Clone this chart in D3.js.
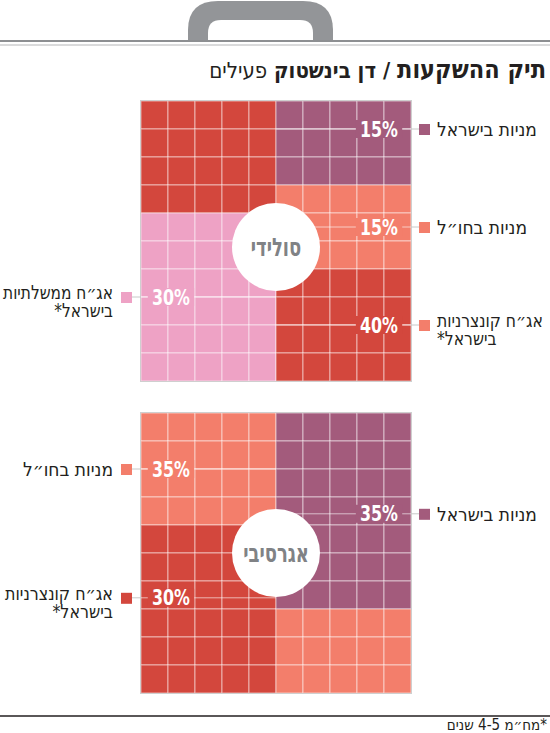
<!DOCTYPE html>
<html lang="he">
<head>
<meta charset="UTF-8">
<title>תיק ההשקעות</title>
<script src="https://d3js.org/d3.v7.min.js"></script>
<style>
  html, body { margin: 0; padding: 0; background: #fff; overflow: hidden; }
  svg { display: block; }
  text { font-family: 'DejaVu Sans Condensed', 'DejaVu Sans', 'Liberation Sans', sans-serif; }
</style>
</head>
<body>
<svg id="chart" width="550" height="733"></svg>
<script>
// asset classes
const catKeys = ["isr", "for", "corp", "gov"];
const catNames = ["מניות בישראל", "מניות בחו״ל", "אג״ח קונצרניות|בישראל*", "אג״ח ממשלתיות|בישראל*"];
const catColors = ["#a35b7c", "#f37e6b", "#d3473d", "#eea2c5"];

const portfolioNames = ["סולידי", "אגרסיבי"];

// share of each asset class, percent
const solidShares = [15, 15, 40, 30];
const aggressiveShares = [35, 35, 30, 0];

// how the 100 squares are stacked: left half / right half, top to bottom
const solidLeft = [["corp", 20], ["gov", 30]];
const solidRight = [["isr", 15], ["for", 15], ["corp", 20]];
const aggressiveLeft = [["for", 20], ["corp", 30]];
const aggressiveRight = [["isr", 35], ["for", 15]];

const svg = d3.select("#chart");
const color = d3.scaleOrdinal().domain(catKeys).range(catColors);

// layout
const gridX0 = 141, gridW = 270, gridH = 280;
const narrow = 0.84;   // squeeze to look like the condensed newspaper face
const panels = [
  { name: portfolioNames[0], shares: solidShares, left: solidLeft, right: solidRight, top: 101, circleDy: 6,
    labels: [ { key: "isr", side: "right", row: 1, maxW: 100 }, { key: "for", side: "right", row: 4.5, maxW: 100 },
              { key: "corp", side: "right", row: 8, maxW: 106, swatch: "#f37e6b" },
              { key: "gov", side: "left", row: 7, maxW: 110 } ] },
  { name: portfolioNames[1], shares: aggressiveShares, left: aggressiveLeft, right: aggressiveRight, top: 413, circleDy: 0,
    labels: [ { key: "for", side: "left", row: 2, maxW: 100 }, { key: "isr", side: "right", row: 3.6, maxW: 100 },
              { key: "corp", side: "left", row: 6.6, maxW: 108 } ] }
];

// ---- header: briefcase handle + rules + title
const handle = svg.append("g").attr("fill", "#939598");
handle.append("path")
  .attr("d", "M188,40 V30 Q188,1 218,1 H303 Q333,1 333,30 V40 Z");
handle.append("path").attr("fill", "#fff")
  .attr("d", "M208,40 V33 Q208,20 221,20 H300 Q313,20 313,33 V40 Z");

svg.append("line").attr("x1", 0).attr("x2", 550).attr("y1", 41).attr("y2", 41)
  .attr("stroke", "#8d8f92").attr("stroke-width", 2);
svg.append("line").attr("x1", 0).attr("x2", 550).attr("y1", 45).attr("y2", 45)
  .attr("stroke", "#b5b6b8").attr("stroke-width", 1);

const title = svg.append("text")
  .attr("x", 546).attr("y", 78)
  .attr("direction", "rtl").attr("text-anchor", "start")
  .attr("fill", "#231f20");
title.append("tspan").attr("font-size", 25).attr("font-weight", 700).text("תיק ההשקעות");
title.append("tspan").attr("font-size", 22).attr("font-weight", 700).text(" / דן בינשטוק ");
title.append("tspan").attr("font-size", 22).attr("font-weight", 400).text("פעילים");

// ---- waffles
function buildCells(leftSeq, rightSeq) {
  const cells = [];
  [[leftSeq, 0], [rightSeq, 5]].forEach(([seq, colOff]) => {
    let idx = 0;
    seq.forEach(([key, n]) => {
      for (let k = 0; k < n; k++, idx++) {
        cells.push({ key, col: colOff + idx % 5, row: Math.floor(idx / 5) });
      }
    });
  });
  return cells;
}

const x = d3.scaleBand().domain(d3.range(10)).range([gridX0, gridX0 + gridW]);

panels.forEach(p => {
  const y = d3.scaleBand().domain(d3.range(10)).range([p.top, p.top + gridH]);
  const yRow = d3.scaleLinear().domain([0, 10]).range([p.top, p.top + gridH]);
  const g = svg.append("g");

  g.selectAll("rect.cell")
    .data(buildCells(p.left, p.right))
    .join("rect")
    .attr("class", "cell")
    .attr("x", d => x(d.col)).attr("y", d => y(d.row))
    .attr("width", x.bandwidth()).attr("height", y.bandwidth())
    .attr("fill", d => color(d.key))
    .attr("stroke", "#fff").attr("stroke-opacity", 0.55).attr("stroke-width", 1);

  g.append("rect")
    .attr("x", gridX0 - 0.5).attr("y", p.top - 0.5)
    .attr("width", gridW + 1).attr("height", gridH + 1)
    .attr("fill", "none").attr("stroke", "#cfcfcf").attr("stroke-width", 1);

  // labels, leaders, legend
  p.labels.forEach(l => {
    const i = catKeys.indexOf(l.key);
    const ly = yRow(l.row);
    const right = l.side === "right";
    const edge = right ? gridX0 + gridW : gridX0;
    const swX = right ? edge + 8 : edge - 20;

    // leader across the block and out to the swatch
    g.append("line")
      .attr("x1", right ? x(5) : gridX0).attr("x2", right ? gridX0 + gridW : x(5))
      .attr("y1", ly).attr("y2", ly)
      .attr("stroke", "#fff").attr("stroke-opacity", 0.6);
    g.append("line")
      .attr("x1", edge).attr("x2", right ? swX : swX + 11)
      .attr("y1", ly).attr("y2", ly)
      .attr("stroke", "#c8c8c8");

    // percentage on a patch of its own colour, so the grid breaks around it
    const pg = g.append("g")
      .attr("transform", `translate(${right ? edge - 13 : edge + 11},${ly}) scale(${narrow},1)`);
    const lbl = pg.append("text")
      .attr("y", 7.5)
      .attr("text-anchor", right ? "end" : "start")
      .attr("font-size", 21).attr("font-weight", 700).attr("fill", "#fff")
      .text(p.shares[i] + "%");
    const bb = lbl.node().getBBox();
    pg.insert("rect", "text")
      .attr("x", bb.x - 5).attr("y", -9)
      .attr("width", bb.width + 10).attr("height", 18)
      .attr("fill", color(l.key));

    g.append("rect")
      .attr("x", swX).attr("y", ly - 5).attr("width", 11).attr("height", 11)
      .attr("fill", l.swatch || color(l.key));

    const ax = right ? swX + 18 : swX - 8;
    const lines = catNames[i].split("|");
    const tg = g.append("g");
    const t = tg.append("text")
      .attr("direction", "rtl")
      .attr("text-anchor", right ? "end" : "start")
      .attr("font-size", 19).attr("fill", "#231f20");
    lines.forEach((s, k) => {
      t.append("tspan")
        .attr("x", 0)
        .attr("y", lines.length > 1 ? 2 + k * 18 : 7)
        .text(s);
    });
    const w = t.select("tspan").node().getComputedTextLength();
    const f = Math.min(1, l.maxW / w);
    tg.attr("transform", `translate(${ax},${ly}) scale(${f},1)`);
  });

  // centre badge
  const cy = yRow(5) + p.circleDy;
  g.append("circle").attr("cx", x(5)).attr("cy", cy).attr("r", 44).attr("fill", "#fff");
  g.append("g").attr("transform", `translate(${x(5)},${cy}) scale(0.8,1)`)
    .append("text")
    .attr("y", 8.5)
    .attr("text-anchor", "middle")
    .attr("font-size", 25).attr("font-weight", 700).attr("fill", "#808285")
    .text(p.name);
});

// ---- footer
svg.append("line").attr("x1", 0).attr("x2", 550).attr("y1", 716).attr("y2", 716)
  .attr("stroke", "#231f20").attr("stroke-width", 1.5);
svg.append("text")
  .attr("x", 547).attr("y", 730)
  .attr("direction", "rtl").attr("text-anchor", "start")
  .attr("font-size", 15).attr("fill", "#231f20")
  .text("*מח״מ 4-5 שנים");
</script>
</body>
</html>
